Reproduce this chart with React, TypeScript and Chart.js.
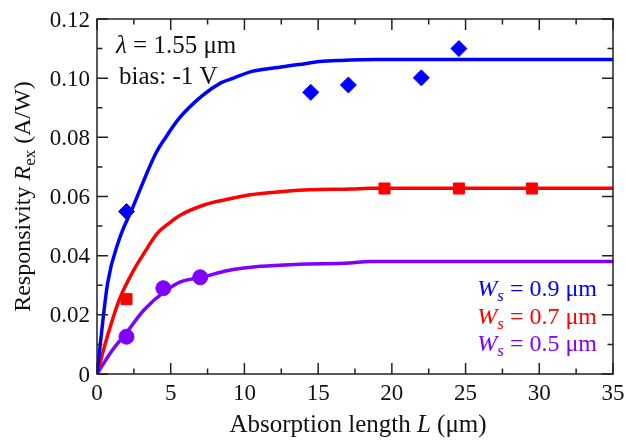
import React, { useEffect, useRef } from 'react';
import { Chart, registerables } from 'chart.js';

Chart.register(...registerables);

// ---- data ----
const blueFitX = [0, 0.72, 1.5, 2.4, 4.0, 4.7, 5.5, 7.1, 8.4, 9.3, 10.5, 11.2, 13.7, 15.1, 16.5, 19.0, 35];
const blueFitY = [0, 0.0307, 0.0454, 0.056, 0.0747, 0.0803, 0.086, 0.0939, 0.0984, 0.1001, 0.1023, 0.1029, 0.1046, 0.1056, 0.106, 0.1063, 0.1063];
const redFitX = [0, 0.75, 1.5, 2.5, 3.2, 4.1, 4.9, 5.7, 7.3, 8.7, 10.4, 12.6, 14.4, 17.3, 18.5, 35];
const redFitY = [0, 0.0135, 0.025, 0.0352, 0.0409, 0.0476, 0.051, 0.0538, 0.0572, 0.0589, 0.0606, 0.0617, 0.0623, 0.0625, 0.0628, 0.0628];
const purpleFitX = [0, 1.0, 2.0, 3.2, 4.6, 5.7, 7.1, 8.9, 11.1, 13.7, 17.1, 18.5, 35];
const purpleFitY = [0, 0.0078, 0.014, 0.0217, 0.0279, 0.0312, 0.0327, 0.035, 0.0364, 0.0371, 0.0375, 0.038, 0.038];

const blueMeasX = [2, 14.5, 17.05, 22, 24.55];
const blueMeasY = [0.0549, 0.0952, 0.0977, 0.1001, 0.11];
const redMeasX = [2, 19.5, 24.55, 29.5];
const redMeasY = [0.0253, 0.0627, 0.0627, 0.0627];
const purpleMeasX = [2, 4.5, 7];
const purpleMeasY = [0.0126, 0.029, 0.0327];

const xMajor = [0, 5, 10, 15, 20, 25, 30, 35];
const xMajorLabels = ['0', '5', '10', '15', '20', '25', '30', '35'];
const xMinor = [2.5, 7.5, 12.5, 17.5, 22.5, 27.5, 32.5];
const yMajor = [0, 0.02, 0.04, 0.06, 0.08, 0.1, 0.12];
const yMajorLabels = ['0', '0.02', '0.04', '0.06', '0.08', '0.10', '0.12'];
const yMinor = [0.01, 0.03, 0.05, 0.07, 0.09, 0.11];

const legendLabels = ['= 0.9 μm', '= 0.7 μm', '= 0.5 μm'];

const BLUE = '#0000ff';
const RED = '#ff0000';
const PURPLE = '#8000ff';
const FONT = '"Liberation Serif", "Times New Roman", Times, serif';

const pts = (xs: number[], ys: number[]) => xs.map((x, i) => ({ x, y: ys[i] }));

type Seg = { text: string; font: string; color: string; dy?: number };

function drawRich(ctx: CanvasRenderingContext2D, segs: Seg[], x: number, y: number, align: 'left' | 'right' | 'center') {
  let total = 0;
  const widths = segs.map((s) => {
    ctx.font = s.font;
    const w = ctx.measureText(s.text).width;
    total += w;
    return w;
  });
  let cx = align === 'left' ? x : align === 'right' ? x - total : x - total / 2;
  ctx.textAlign = 'left';
  ctx.textBaseline = 'alphabetic';
  segs.forEach((s, i) => {
    ctx.font = s.font;
    ctx.fillStyle = s.color;
    ctx.fillText(s.text, cx, y + (s.dy || 0));
    cx += widths[i];
  });
}

const framePlugin = {
  id: 'framePlugin',
  afterDraw(chart: any) {
    const ctx: CanvasRenderingContext2D = chart.ctx;
    const xs = chart.scales.x;
    const ys = chart.scales.y;
    const { left, right, top, bottom } = chart.chartArea;
    ctx.save();
    ctx.strokeStyle = '#222';
    ctx.lineWidth = 1.5;
    ctx.strokeRect(left, top, right - left, bottom - top);
    const MAJ = 11;
    const MIN = 5.5;
    ctx.beginPath();
    const xt = (v: number, len: number) => {
      const px = xs.getPixelForValue(v);
      ctx.moveTo(px, bottom);
      ctx.lineTo(px, bottom - len);
      ctx.moveTo(px, top);
      ctx.lineTo(px, top + len);
    };
    const yt = (v: number, len: number) => {
      const py = ys.getPixelForValue(v);
      ctx.moveTo(left, py);
      ctx.lineTo(left + len, py);
      ctx.moveTo(right, py);
      ctx.lineTo(right - len, py);
    };
    xMajor.forEach((v) => xt(v, MAJ));
    xMinor.forEach((v) => xt(v, MIN));
    yMajor.forEach((v) => yt(v, MAJ));
    yMinor.forEach((v) => yt(v, MIN));
    ctx.stroke();

    // tick labels
    ctx.fillStyle = '#111';
    ctx.font = `23px ${FONT}`;
    ctx.textAlign = 'center';
    ctx.textBaseline = 'alphabetic';
    xMajor.forEach((v, i) => {
      ctx.fillText(xMajorLabels[i], xs.getPixelForValue(v), 400);
    });
    ctx.textAlign = 'right';
    yMajor.forEach((v, i) => {
      ctx.fillText(yMajorLabels[i], 90, ys.getPixelForValue(v) + 7.5);
    });

    const N = `24px ${FONT}`;
    const I = `italic 24px ${FONT}`;
    const N25 = `25px ${FONT}`;
    const I25 = `italic 25px ${FONT}`;
    const SUBN = `17px ${FONT}`;
    const SUBI = `italic 17px ${FONT}`;
    const K = '#111';

    // x title
    drawRich(ctx, [
      { text: 'Absorption length ', font: N25, color: K },
      { text: 'L', font: I25, color: K },
      { text: ' (μm)', font: N25, color: K },
    ], 358, 432, 'center');

    // y title
    ctx.save();
    ctx.translate(30, (top + bottom) / 2);
    ctx.rotate(-Math.PI / 2);
    drawRich(ctx, [
      { text: 'Responsivity ', font: N, color: K },
      { text: 'R', font: I, color: K },
      { text: 'ex', font: SUBN, color: K, dy: 5 },
      { text: ' (A/W)', font: N, color: K },
    ], 0, 0, 'center');
    ctx.restore();

    // annotations
    drawRich(ctx, [
      { text: 'λ', font: I25, color: K },
      { text: ' = 1.55 μm', font: N25, color: K },
    ], 116, 53, 'left');
    drawRich(ctx, [{ text: 'bias: -1 V', font: N25, color: K }], 119, 84, 'left');

    // legend
    const cols = [BLUE, RED, PURPLE];
    const bases = [296, 323.5, 351];
    cols.forEach((c, i) => {
      drawRich(ctx, [
        { text: 'W', font: I, color: c },
        { text: 's', font: SUBI, color: c, dy: 5 },
        { text: ' ' + legendLabels[i], font: N, color: c },
      ], 597, bases[i], 'right');
    });
    ctx.restore();
  },
};

export default function App() {
  const ref = useRef<HTMLCanvasElement | null>(null);
  useEffect(() => {
    if (!ref.current) return;
    const line = (data: any, color: string) => ({
      type: 'scatter' as const,
      data,
      showLine: true,
      borderColor: color,
      backgroundColor: color,
      borderWidth: 3.5,
      pointRadius: 0,
      pointHoverRadius: 0,
      cubicInterpolationMode: 'monotone',
      order: 2,
    });
    const marks = (data: any, color: string, style: string, r: number) => ({
      type: 'scatter' as const,
      data,
      showLine: false,
      pointStyle: style,
      pointRadius: r,
      pointBorderWidth: 1,
      borderColor: color,
      backgroundColor: color,
      pointBackgroundColor: color,
      pointBorderColor: color,
      order: 1,
    });
    const chart = new Chart(ref.current, {
      type: 'scatter',
      data: {
        datasets: [
          line(pts(blueFitX, blueFitY), BLUE),
          line(pts(redFitX, redFitY), RED),
          line(pts(purpleFitX, purpleFitY), PURPLE),
          marks(pts(blueMeasX, blueMeasY), BLUE, 'rectRot', 8),
          marks(pts(redMeasX, redMeasY), RED, 'rect', 7.8),
          marks(pts(purpleMeasX, purpleMeasY), PURPLE, 'circle', 7.5),
        ] as any,
      },
      options: {
        animation: false,
        responsive: false,
        maintainAspectRatio: false,
        layout: { padding: { left: 97, top: 19, right: 13, bottom: 68 } },
        plugins: { legend: { display: false }, tooltip: { enabled: false } },
        scales: {
          x: { type: 'linear', min: 0, max: 35, display: false },
          y: { type: 'linear', min: 0, max: 0.12, display: false },
        },
      },
      plugins: [framePlugin],
    });
    let alive = true;
    const fonts = (document as any).fonts;
    if (fonts && fonts.load) {
      Promise.all([
        fonts.load(`24px "Liberation Serif"`),
        fonts.load(`italic 24px "Liberation Serif"`),
      ]).then(() => { if (alive) chart.draw(); }).catch(() => {});
    }
    return () => { alive = false; chart.destroy(); };
  }, []);
  return (
    <div style={{ position: 'fixed', left: 0, top: 0, width: 626, height: 442, background: '#fff' }}>
      <canvas ref={ref} width={626} height={442} />
    </div>
  );
}
